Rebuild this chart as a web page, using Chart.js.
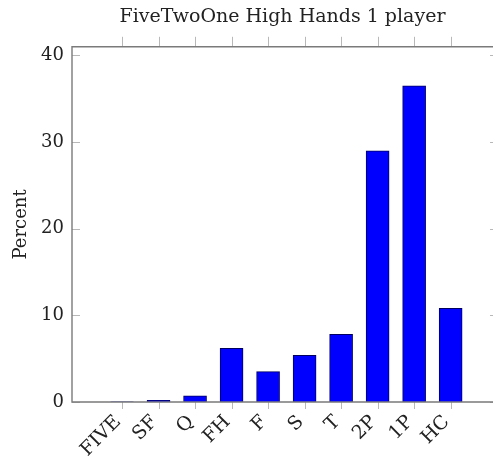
<!DOCTYPE html>
<html>
<head>
<meta charset="utf-8">
<script src="https://cdn.jsdelivr.net/npm/chart.js@4.4.0/dist/chart.umd.min.js"></script>
<style>
  html, body { margin: 0; padding: 0; background: #fff; overflow: hidden; }
  #c { display: block; width: 493px; height: 461px; }
</style>
</head>
<body>
<canvas id="c" width="493" height="461"></canvas>
<script>
const categories = ["FIVE", "SF", "Q", "FH", "F", "S", "T", "2P", "1P", "HC"];
const percentValues = [0.02, 0.2, 0.7, 6.2, 3.5, 5.4, 7.8, 29.0, 36.5, 10.8];
const yTickValues = [0, 10, 20, 30, 40];
const titleText = "FiveTwoOne High Hands 1 player";
const yLabel = "Percent";

const serif = "'DejaVu Serif', 'Liberation Serif', serif";

const framePlugin = {
  id: 'frame',
  afterDatasetsDraw(chart) {
    const {ctx, chartArea: a, scales} = chart;
    const xs = scales.x, ys = scales.y;
    const W = chart.width;
    ctx.save();
    ctx.strokeStyle = '#b8b8b8';
    ctx.lineWidth = 1;
    ctx.beginPath();
    categories.forEach((c, i) => {
      const px = Math.round(xs.getPixelForValue(i)) + 0.5;
      ctx.moveTo(px, a.bottom); ctx.lineTo(px, a.bottom + 7);
      ctx.moveTo(px, a.top - 10); ctx.lineTo(px, a.top);
    });
    yTickValues.forEach(v => {
      const py = Math.round(ys.getPixelForValue(v)) + 0.5;
      ctx.moveTo(a.left, py); ctx.lineTo(a.left + 8, py);
      ctx.moveTo(W - 3, py); ctx.lineTo(W, py);
    });
    ctx.stroke();
    ctx.strokeStyle = '#7a7a7a';
    ctx.lineWidth = 1.4;
    ctx.beginPath();
    ctx.moveTo(W, a.top); ctx.lineTo(a.left, a.top);
    ctx.lineTo(a.left, a.bottom); ctx.lineTo(W, a.bottom);
    ctx.stroke();
    ctx.restore();
  }
};

new Chart(document.getElementById('c'), {
  type: 'bar',
  data: {
    datasets: [{
      data: categories.map((c, i) => ({x: i, y: percentValues[i]})),
      backgroundColor: '#0000ff',
      borderColor: '#000060',
      borderWidth: 1,
      barThickness: 23
    }]
  },
  options: {
    responsive: false,
    maintainAspectRatio: false,
    animation: false,
    devicePixelRatio: 1,
    layout: { padding: { left: 0, right: 0, top: 0, bottom: 0 } },
    plugins: {
      legend: { display: false },
      tooltip: { enabled: false },
      title: {
        display: true,
        fullSize: false,
        text: titleText,
        color: '#222',
        font: { family: serif, size: 19, weight: 'normal' },
        padding: { top: 6, bottom: 18 }
      }
    },
    scales: {
      x: {
        type: 'linear',
        offset: false,
        min: -1.37,
        max: 10.16,
        afterBuildTicks: s => { s.ticks = categories.map((c, i) => ({value: i})); },
        afterFit: s => { s.height = 59; s.paddingLeft = 0; s.paddingRight = 0; },
        grid: { display: false, drawTicks: false },
        border: { display: false },
        ticks: {
          autoSkip: false,
          minRotation: 45,
          maxRotation: 45,
          padding: 9,
          labelOffset: -4,
          color: '#222',
          font: { family: serif, size: 19 },
          callback: v => categories[v] ?? ''
        }
      },
      y: {
        min: 0,
        max: 41,
        afterBuildTicks: s => { s.ticks = yTickValues.map(v => ({value: v})); },
        afterFit: s => { s.width = 72; },
        grid: { display: false, drawTicks: false },
        border: { display: false },
        ticks: {
          padding: 8,
          color: '#222',
          font: { family: serif, size: 18 }
        },
        title: {
          display: true,
          text: yLabel,
          color: '#222',
          font: { family: serif, size: 18 },
          padding: { top: 11, bottom: 0 }
        }
      }
    }
  },
  plugins: [framePlugin]
});
</script>
</body>
</html>
